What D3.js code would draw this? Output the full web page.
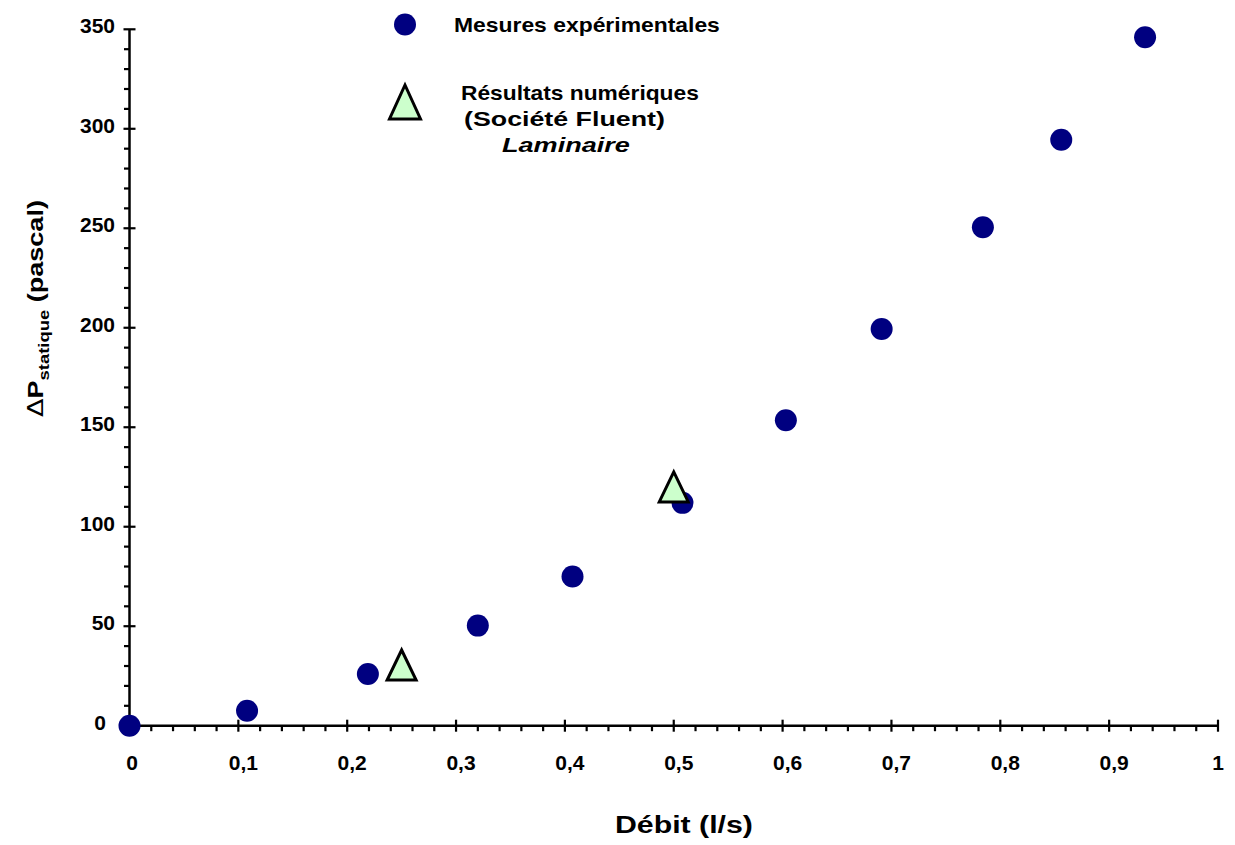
<!DOCTYPE html>
<html><head><meta charset="utf-8">
<script src="https://cdn.jsdelivr.net/npm/d3@7"></script>
<style>body{margin:0;background:#fff}svg{display:block;font-family:"Liberation Sans",Arial,sans-serif}</style>
</head><body>
<svg id="c" width="1235" height="845"></svg>
<script>
const mesuresX = [0, 0.108, 0.219, 0.320, 0.407, 0.508, 0.603, 0.691, 0.784, 0.856, 0.933];
const mesuresY = [0, 7.5, 26, 50.3, 75, 112, 153.5, 199.4, 250.5, 294.5, 346];
const fluentX = [0.25, 0.5];
const fluentY = [30.5, 120];
const xTicks = [0, 0.1, 0.2, 0.3, 0.4, 0.5, 0.6, 0.7, 0.8, 0.9, 1];
const yTicks = [0, 50, 100, 150, 200, 250, 300, 350];
const xTickLabels = ["0", "0,1", "0,2", "0,3", "0,4", "0,5", "0,6", "0,7", "0,8", "0,9", "1"];
const yTickLabels = ["0", "50", "100", "150", "200", "250", "300", "350"];
const legendLabels = ["Mesures expérimentales", "Résultats numériques", "(Société Fluent)", "Laminaire"];
const xTitle = "Débit (l/s)";

const svg = d3.select("#c");
const x = d3.scaleLinear().domain([0, 1]).range([129.5, 1218]);
const y = d3.scaleLinear().domain([0, 350]).range([725.7, 29.3]);

const g = svg.append("g");
const black = "#000";

// axes lines
g.append("line").attr("x1", x(0)).attr("x2", x(1)).attr("y1", y(0)).attr("y2", y(0)).attr("stroke", black).attr("stroke-width", 2.5);
g.append("line").attr("x1", x(0)).attr("x2", x(0)).attr("y1", y(0)).attr("y2", y(350)).attr("stroke", black).attr("stroke-width", 2.5);

// minor ticks
const xMinor = d3.range(0, 51).map(i => i / 50).filter(v => Math.round(v * 50) % 5 !== 0);
const yMinor = d3.range(0, 36).map(i => i * 10).filter(v => v % 50 !== 0);
g.selectAll(".xm").data(xMinor).join("line").attr("x1", d => x(d)).attr("x2", d => x(d))
  .attr("y1", y(0)).attr("y2", y(0) + 5.5).attr("stroke", black).attr("stroke-width", 2.2);
g.selectAll(".ym").data(yMinor).join("line").attr("y1", d => y(d)).attr("y2", d => y(d))
  .attr("x1", x(0)).attr("x2", x(0) - 5.5).attr("stroke", black).attr("stroke-width", 2.2);
// major ticks
g.selectAll(".xM").data(xTicks).join("line").attr("x1", d => x(d)).attr("x2", d => x(d))
  .attr("y1", y(0) - 6).attr("y2", y(0) + 6).attr("stroke", black).attr("stroke-width", 2.2);
g.selectAll(".yM").data(yTicks).join("line").attr("y1", d => y(d)).attr("y2", d => y(d))
  .attr("x1", x(0) - 6).attr("x2", x(0) + 6).attr("stroke", black).attr("stroke-width", 2.2);

// tick labels
g.selectAll(".xl").data(xTicks).join("text")
  .attr("x", (d, i) => x(d) + (xTickLabels[i].includes(",") ? 5 : (d === 0 ? 2.5 : 0)))
  .attr("y", 770).attr("text-anchor", "middle").attr("font-size", 21).attr("font-weight", "bold")
  .text((d, i) => xTickLabels[i]);
g.selectAll(".yl").data(yTicks).join("text")
  .attr("x", d => d === 0 ? 106 : 115).attr("y", d => y(d) + 4)
  .attr("text-anchor", "end").attr("font-size", 21).attr("font-weight", "bold")
  .text((d, i) => yTickLabels[i]);

// helper: stretch text horizontally to a target width (the reference font is wide)
function placeStretched(sel, x0, y0, width, rotate) {
  const w = sel.node().getComputedTextLength();
  const s = width / w;
  sel.attr("x", 0).attr("y", 0)
     .attr("transform", `translate(${x0},${y0})${rotate ? ` rotate(${rotate})` : ""} scale(${s},1)`);
}

// axis titles
const xt = svg.append("text").attr("font-size", 24).attr("font-weight", "bold").text(xTitle);
placeStretched(xt, 615, 833, 138);

const yt = svg.append("text").attr("text-anchor", "middle").attr("font-size", 22).attr("font-weight", "bold");
yt.append("tspan").attr("font-weight", "normal").attr("font-family", "DejaVu Sans").text("Δ");
yt.append("tspan").text("P");
yt.append("tspan").attr("font-size", 15).attr("dy", 6).text("statique");
yt.append("tspan").attr("dy", -6).text(" (pascal)");
placeStretched(yt, 43, 308.5, 217, -90);

// triangle path
const tri = (w, h) => `M0,${-h / 2}L${w / 2},${h / 2}L${-w / 2},${h / 2}Z`;

// data marks
svg.selectAll(".m").data(mesuresX).join("circle")
  .attr("cx", d => x(d)).attr("cy", (d, i) => y(mesuresY[i])).attr("r", 11).attr("fill", "#000080");
svg.selectAll(".f").data(fluentX).join("path")
  .attr("transform", (d, i) => `translate(${x(d)},${y(fluentY[i])})`)
  .attr("d", tri(29, 30)).attr("fill", "#ccffcc").attr("stroke", black).attr("stroke-width", 3);

// legend
svg.append("circle").attr("cx", 405).attr("cy", 24.5).attr("r", 11).attr("fill", "#000080");
svg.append("path").attr("transform", "translate(405,102)").attr("d", tri(31, 34))
  .attr("fill", "#ccffcc").attr("stroke", black).attr("stroke-width", 3);
const legPos = [[454, 32, 266], [461, 100, 238], [464, 126, 201], [502, 152, 128]];
legendLabels.forEach((t, i) => {
  const el = svg.append("text").attr("font-size", 20).attr("font-weight", "bold")
    .attr("font-style", i === 3 ? "italic" : "normal").text(t);
  placeStretched(el, legPos[i][0], legPos[i][1], legPos[i][2]);
});
</script>
</body></html>
